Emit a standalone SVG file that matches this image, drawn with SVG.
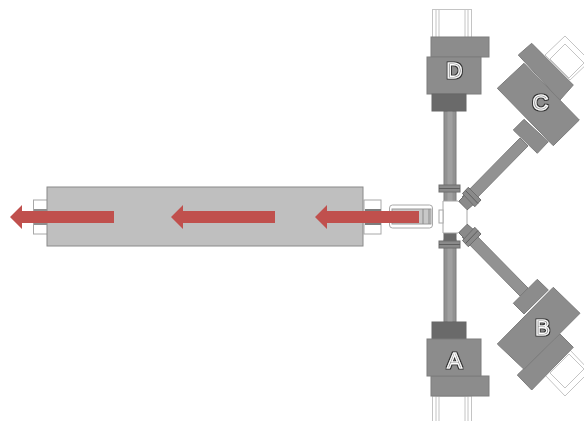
<svg xmlns="http://www.w3.org/2000/svg" width="584" height="421" viewBox="0 0 584 421">
<style>
.g{fill:#8c8c8c;stroke:#7c7c7c;stroke-width:1}
.dk{fill:#6a6a6a;stroke:#666;stroke-width:1}
.sh{fill:#929292;stroke:#7c7c7c;stroke-width:1}
.fl{fill:#8a8a8a;stroke:#6e6e6e;stroke-width:1}
.fr{fill:none;stroke:#c4c4c4;stroke-width:1}
.w{fill:#fff;stroke:#a8a8a8;stroke-width:1}
.ar{fill:#c0504d}
.lb{font-family:"Liberation Sans",Arial,sans-serif;font-size:22px;fill:#8a8a8a;stroke:#fff;stroke-width:1.1px;text-anchor:middle;filter:url(#o)}
</style>
<defs>
<filter id="o" x="-30%" y="-30%" width="160%" height="160%">
<feMorphology in="SourceAlpha" operator="dilate" radius="0.7" result="d"/>
<feFlood flood-color="#333"/>
<feComposite in2="d" operator="in" result="e"/>
<feMerge><feMergeNode in="e"/><feMergeNode in="SourceGraphic"/></feMerge>
</filter>
<polygon id="arrow" class="ar" points="0,0 12,-12 12,-6 104,-6 104,6 12,6 12,12"/>
</defs>
<rect width="584" height="421" fill="#fff"/>

<g id="connectors">
<rect class="sh" x="444" y="111" width="12" height="90"/>
<rect x="447.500" y="111" width="5" height="90" fill="#a0a0a0"/>
<rect class="sh" x="444" y="240" width="12" height="82"/>
<rect x="447.500" y="240" width="5" height="82" fill="#a0a0a0"/>
<rect class="dk" x="444" y="233" width="12" height="8"/>
<rect class="fl" x="439" y="185" width="21" height="7"/>
<line x1="439" y1="188.500" x2="460" y2="188.500" stroke="#5e5e5e"/>
<rect class="fl" x="439" y="241" width="21" height="7"/>
<line x1="439" y1="244.500" x2="460" y2="244.500" stroke="#5e5e5e"/>
<polygon class="sh" points="462,197 520,138 528,146 470,205"/>
<polygon class="sh" points="462,237 520,296 528,288 470,229"/>
<polygon class="fl" points="459,201 466,194 475,203 467,210"/>
<polygon class="fl" points="459,233 466,240 475,231 467,224"/>
<polygon class="fl" points="462.500,193.500 468.300,187.300 481,200 474.800,206.700"/>
<line x1="465.500" y1="190.500" x2="478" y2="203.500" stroke="#5e5e5e"/>
<polygon class="fl" points="462.500,240.500 468.300,246.700 481,234 474.800,227.300"/>
<line x1="465.500" y1="243.500" x2="478" y2="230.500" stroke="#5e5e5e"/>
</g>

<g id="conveyor">
<rect class="w" x="33.500" y="200" width="14" height="34"/>
<rect class="w" x="364" y="200" width="17" height="34"/>
<rect x="47" y="187" width="316" height="59" fill="#bfbfbf" stroke="#8a8a8a"/>
<rect x="34" y="209" width="13" height="16" fill="#8f8f8f"/>
<rect x="365" y="209" width="16" height="16" fill="#7d7d7d"/>
<rect x="389.500" y="205" width="43" height="23" rx="3" fill="#fff" stroke="#a8a8a8"/>
<rect x="392" y="209" width="39" height="15" fill="#c8c8c8" stroke="#9a9a9a"/>
<line x1="423" y1="209" x2="423" y2="224" stroke="#8a8a8a"/>
<line x1="429" y1="209" x2="429" y2="224" stroke="#8a8a8a"/>
</g>

<g id="hub">
<polygon points="443,201 458,201 467,210 467,224 458,233 443,233" fill="#fff" stroke="#a8a8a8"/>
<rect x="439" y="210" width="4" height="13" fill="#fff" stroke="#a8a8a8"/>
</g>

<g id="node-D">
<rect class="fr" x="432.500" y="9.500" width="39" height="28"/>
<rect class="fr" x="439" y="9.500" width="26" height="28"/>
<rect class="fr" x="436" y="9.500" width="32" height="28"/>
<rect class="g" x="431" y="37" width="58" height="20"/>
<rect class="g" x="427" y="57" width="54" height="37"/>
<rect class="dk" x="432" y="94" width="34" height="17"/>
<text class="lb" x="454.500" y="78">D</text>
</g>

<g id="node-A">
<rect class="fr" x="432.500" y="396" width="39" height="26"/>
<rect class="fr" x="439" y="396" width="26" height="26"/>
<rect class="fr" x="436" y="396" width="32" height="26"/>
<rect class="dk" x="432" y="322" width="34" height="17"/>
<rect class="g" x="431" y="376" width="58" height="20"/>
<rect class="g" x="427" y="339" width="54" height="37"/>
<text class="lb" x="454.500" y="368">A</text>
</g>

<g id="node-C">
<polygon class="fr" points="545,55 565,36 590,61 570,80"/>
<polygon class="fr" points="550,59 565,44 584,63 569,78"/>
<polygon class="g" points="513.300,130 524,119.300 548.300,141.700 537.300,153.300"/>
<polygon class="g" points="518.300,55 531.700,43.300 573.300,85 560,100"/>
<polygon class="g" points="497.300,88.300 524,63.300 579.300,120 553.300,145.700"/>
<text class="lb" x="540.500" y="110">C</text>
</g>

<g id="node-B">
<polygon class="fr" points="545,375 565,396 590,371 570,350"/>
<polygon class="fr" points="550,373 565,388 584,369 569,354"/>
<polygon class="g" points="513.300,303.300 537.300,279.300 548.300,290 524,314"/>
<polygon class="g" points="517.300,375 560,334 573.300,347.300 531.700,390"/>
<polygon class="g" points="497.300,344 553.300,287.300 580,313.300 524,369.300"/>
<text class="lb" x="542.500" y="335">B</text>
</g>

<g id="arrows">
<use href="#arrow" x="10" y="217"/>
<use href="#arrow" x="171" y="217"/>
<use href="#arrow" x="315" y="217"/>
</g>
</svg>
